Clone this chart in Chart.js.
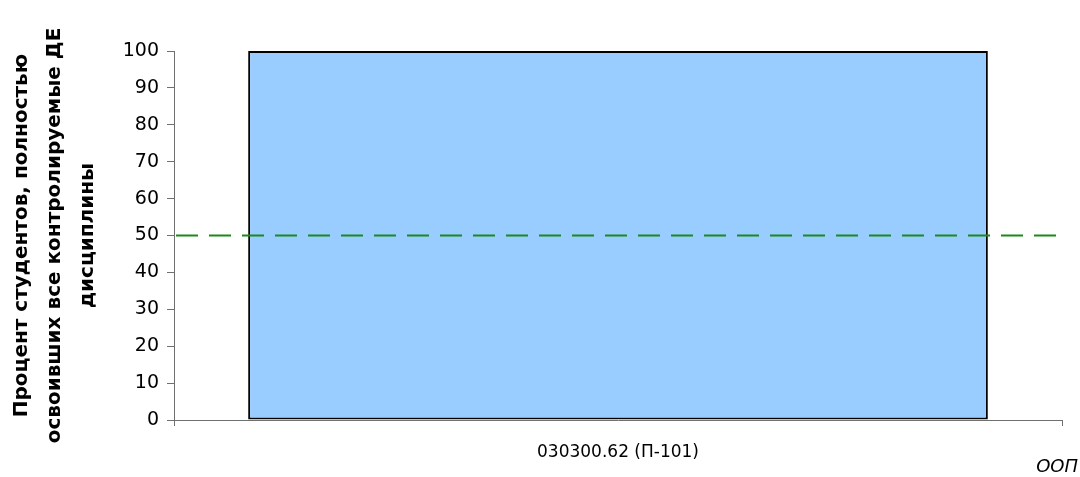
<!DOCTYPE html>
<html lang="ru">
<head>
<meta charset="UTF-8">
<title>Процент студентов</title>
<style>
  html, body { margin: 0; padding: 0; background: #fff; }
  #wrap { width: 1080px; height: 477px; }
</style>
</head>
<body>
<div id="wrap"><canvas id="chart" width="1080" height="477"></canvas></div>
<script src="https://cdn.jsdelivr.net/npm/chart.js"></script>
<script>
const categories = ['030300.62 (П-101)'];
const values = [100];
const threshold = [50];
const yTicks = [0, 10, 20, 30, 40, 50, 60, 70, 80, 90, 100];
const yTitle = ['Процент студентов, полностью', 'освоивших все контролируемые ДЕ', 'дисциплины'];
const xTitle = 'ООП';
const FONT = '"DejaVu Sans", "Liberation Sans", Arial, sans-serif';

// пунктирная линия порога
const thresholdLine = {
  id: 'thresholdLine',
  afterDatasetsDraw(chart) {
    const ctx = chart.ctx;
    const y = chart.scales.y.getPixelForValue(threshold[0]);
    ctx.save();
    ctx.strokeStyle = '#1a8a1a';
    ctx.lineWidth = 2;
    ctx.setLineDash([22, 11]);
    ctx.beginPath();
    ctx.moveTo(chart.chartArea.left + 2, y);
    ctx.lineTo(chart.chartArea.right + 4, y);
    ctx.stroke();
    ctx.restore();
  }
};

// подпись оси X в правом нижнем углу
const xTitleLabel = {
  id: 'xTitleLabel',
  afterDraw(chart) {
    const ctx = chart.ctx;
    ctx.save();
    ctx.fillStyle = '#000';
    ctx.font = 'italic 18px ' + FONT;
    ctx.textAlign = 'right';
    ctx.textBaseline = 'middle';
    ctx.fillText(xTitle, chart.width - 2, 467);
    ctx.restore();
  }
};

new Chart(document.getElementById('chart'), {
  type: 'bar',
  data: {
    labels: categories,
    datasets: [{
      data: values,
      backgroundColor: '#99ccff',
      borderColor: '#000',
      borderWidth: 2,
      borderSkipped: false,
      barPercentage: 0.833,
      categoryPercentage: 1
    }]
  },
  options: {
    responsive: false,
    animation: false,
    layout: { padding: { top: 51, right: 18, bottom: 0, left: 5 } },
    plugins: { legend: { display: false }, tooltip: { enabled: false } },
    scales: {
      x: {
        offset: true,
        grid: { offset: true, drawOnChartArea: false, color: '#707070', tickLength: 6 },
        border: { color: '#707070' },
        ticks: { color: '#000', font: { family: FONT, size: 17 }, padding: 16 },
        afterFit(scale) { scale.height = 57; }
      },
      y: {
        min: 0, max: 100,
        afterBuildTicks(scale) { scale.ticks = yTicks.map(v => ({ value: v })); },
        grid: { drawOnChartArea: false, color: '#707070', tickLength: 7 },
        border: { color: '#707070' },
        ticks: { color: '#000', font: { family: FONT, size: 19 }, padding: 8 },
        title: { display: true, text: yTitle, color: '#000',
                 font: { family: FONT, size: 20, weight: 'bold', lineHeight: 1.65 }, padding: 0 },
        afterFit(scale) { scale.width = 169; }
      }
    }
  },
  plugins: [thresholdLine, xTitleLabel]
});
</script>
</body>
</html>
